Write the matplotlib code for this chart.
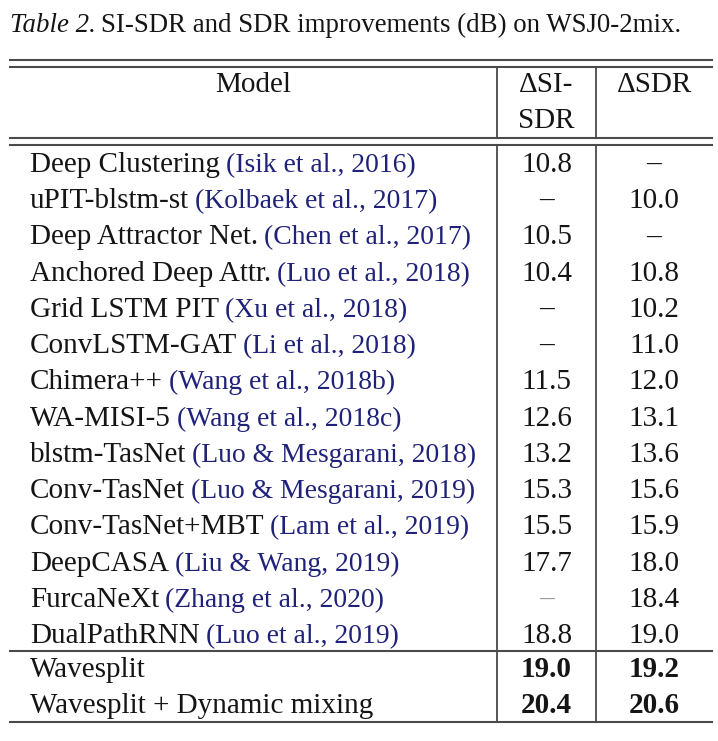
import matplotlib.pyplot as plt

# table contents
models = ["Deep Clustering", "uPIT-blstm-st", "Deep Attractor Net.", "Anchored Deep Attr.",
          "Grid LSTM PIT", "ConvLSTM-GAT", "Chimera++", "WA-MISI-5", "blstm-TasNet",
          "Conv-TasNet", "Conv-TasNet+MBT", "DeepCASA", "FurcaNeXt", "DualPathRNN"]
citations = ["(Isik et al., 2016)", "(Kolbaek et al., 2017)", "(Chen et al., 2017)",
             "(Luo et al., 2018)", "(Xu et al., 2018)", "(Li et al., 2018)",
             "(Wang et al., 2018b)", "(Wang et al., 2018c)", "(Luo & Mesgarani, 2018)",
             "(Luo & Mesgarani, 2019)", "(Lam et al., 2019)", "(Liu & Wang, 2019)",
             "(Zhang et al., 2020)", "(Luo et al., 2019)"]
si_sdr = ["10.8", "–", "10.5", "10.4", "–", "–", "11.5", "12.6", "13.2", "15.3", "15.5",
          "17.7", "–", "18.8"]
sdr = ["–", "10.0", "–", "10.8", "10.2", "11.0", "12.0", "13.1", "13.6", "15.6", "15.9",
       "18.0", "18.4", "19.0"]
ours = ["Wavesplit", "Wavesplit + Dynamic mixing"]
ours_si_sdr = ["19.0", "20.4"]
ours_sdr = ["19.2", "20.6"]

W, H = 718, 741
fig = plt.figure(figsize=(W / 100, H / 100), dpi=100)
ax = fig.add_axes([0, 0, 1, 1])
ax.set_xlim(0, W)
ax.set_ylim(H, 0)
ax.axis("off")

serif = "Liberation Serif"
txt = "#151515"
cite = "#1f2278"
lc = "#4a4a4a"
fs = 21
fs_cite = 19.9
fs_cap = 19.4

fig.canvas.draw()
r = fig.canvas.get_renderer()


def right_edge(t):
    e = t.get_window_extent(r)
    return ax.transData.inverted().transform((e.x1, 0))[0]


# caption
cap = ax.text(10, 32, "Table 2.", fontsize=fs_cap, family=serif, style="italic",
              color=txt, va="baseline")
ax.text(right_edge(cap) + 5, 32, "SI-SDR and SDR improvements (dB) on WSJ0-2mix.",
        fontsize=fs_cap, family=serif, color=txt, va="baseline")

x0, x1 = 10, 712
c1, c2 = 497, 596
for y in [60, 67, 138, 145, 651, 722]:
    ax.plot([x0, x1], [y, y], color=lc, lw=1.5)
for xv in [c1, c2]:
    ax.plot([xv, xv], [67, 138], color=lc, lw=1.3)
    ax.plot([xv, xv], [145, 722], color=lc, lw=1.3)

m1 = (x0 + c1) / 2
m2 = (c1 + c2) / 2
m3 = (c2 + x1) / 2

# header
ax.text(m1, 92, "Model", fontsize=fs, family=serif, color=txt, ha="center", va="baseline")
ax.text(m2, 92, "ΔSI-", fontsize=fs, family=serif, color=txt, ha="center", va="baseline")
ax.text(m2, 128, "SDR", fontsize=fs, family=serif, color=txt, ha="center", va="baseline")
ax.text(m3, 92, "ΔSDR", fontsize=fs, family=serif, color=txt, ha="center", va="baseline")

base0 = 172
step = 36.23
for i, (m, c, a, b) in enumerate(zip(models, citations, si_sdr, sdr)):
    y = base0 + i * step
    t = ax.text(30, y, m, fontsize=fs, family=serif, color=txt, va="baseline")
    ax.text(right_edge(t) + 6, y, c, fontsize=fs_cite, family=serif, color=cite,
            va="baseline")
    col_a = "#9a9a9a" if m == "FurcaNeXt" else txt
    ax.text(m2, y, a, fontsize=fs, family=serif, color=col_a, ha="center", va="baseline")
    ax.text(m3, y, b, fontsize=fs, family=serif, color=txt, ha="center", va="baseline")

for j, (m, a, b) in enumerate(zip(ours, ours_si_sdr, ours_sdr)):
    y = 677 + j * 36
    ax.text(30, y, m, fontsize=fs, family=serif, color=txt, va="baseline")
    ax.text(m2, y, a, fontsize=fs, family=serif, color=txt, ha="center", va="baseline",
            weight="bold")
    ax.text(m3, y, b, fontsize=fs, family=serif, color=txt, ha="center", va="baseline",
            weight="bold")

fig.savefig("out.png", dpi=100)
